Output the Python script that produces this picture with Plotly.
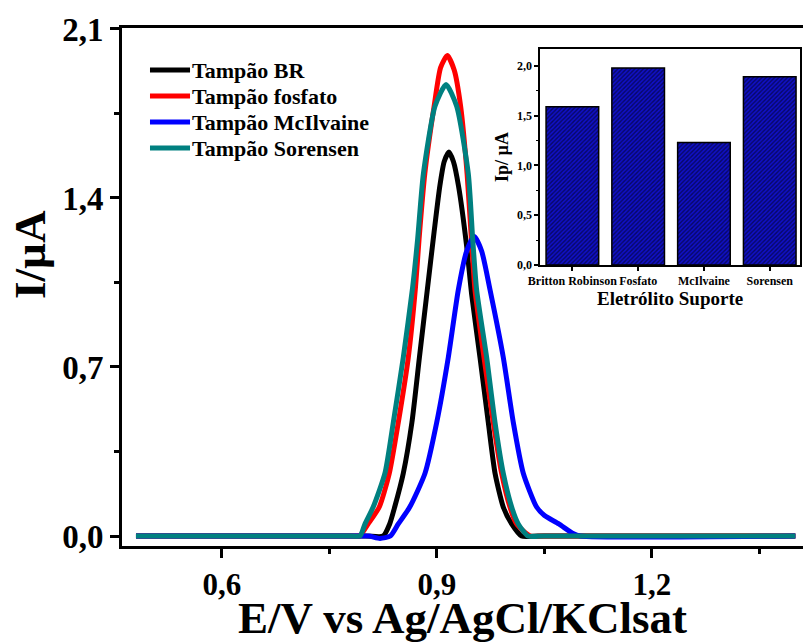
import plotly.graph_objects as go

# ---- main voltammograms (E in V, I in uA) ----
E_br = [0.48, 0.80, 0.825, 0.834, 0.841, 0.853, 0.865, 0.8755, 0.8865, 0.896, 0.904, 0.910, 0.9167,
        0.923, 0.930, 0.9414, 0.9484, 0.960, 0.9716, 0.981, 0.9925, 1.0042, 1.018, 1.04, 1.40]
I_br = [0, 0, 0, 0.05, 0.12, 0.26, 0.47, 0.74, 1.02, 1.26, 1.45, 1.55, 1.59,
        1.55, 1.45, 1.20, 1.00, 0.74, 0.47, 0.26, 0.12, 0.05, 0, 0, 0]

E_fos = [0.48, 0.78, 0.792, 0.804, 0.8195, 0.8335, 0.846, 0.860, 0.870, 0.875, 0.883, 0.896, 0.905,
         0.9144, 0.924, 0.933, 0.942, 0.948, 0.953, 0.9656, 0.9786, 0.9902, 1.0018, 1.011, 1.03, 1.05, 1.40]
I_fos = [0, 0, 0, 0.05, 0.12, 0.26, 0.47, 0.74, 1.03, 1.23, 1.50, 1.78, 1.94,
         1.99, 1.93, 1.78, 1.50, 1.23, 1.02, 0.74, 0.47, 0.26, 0.12, 0.05, 0, 0, 0]

E_mci = [0.48, 0.79, 0.805, 0.8205, 0.835, 0.846, 0.862, 0.8833, 0.8996, 0.9158, 0.9298, 0.9414, 0.952,
         0.9623, 0.974, 0.9925, 1.0065, 1.0204, 1.039, 1.050, 1.070, 1.09, 1.10, 1.40]
I_mci = [0, 0, 0, -0.01, 0, 0.05, 0.12, 0.26, 0.47, 0.74, 1.02, 1.18, 1.24,
         1.18, 1.02, 0.74, 0.47, 0.26, 0.12, 0.085, 0.05, 0.01, 0, 0]

E_sor = [0.48, 0.78, 0.7926, 0.7995, 0.811, 0.8274, 0.839, 0.853, 0.866, 0.873, 0.881, 0.8972, 0.9126,
         0.9275, 0.9437, 0.9498, 0.9553, 0.9693, 0.981, 0.9925, 1.0042, 1.0134, 1.027, 1.05, 1.40]
I_sor = [0, 0, 0, 0.05, 0.12, 0.26, 0.47, 0.74, 1.03, 1.23, 1.50, 1.78, 1.87,
         1.78, 1.50, 1.23, 1.02, 0.74, 0.47, 0.26, 0.12, 0.05, 0, 0, 0]

series_names = ["Tampão BR", "Tampão fosfato", "Tampão McIlvaine", "Tampão Sorensen"]
series_colors = ["#000000", "#ff0000", "#0000ff", "#008080"]

# ---- inset bar chart ----
inset_categories = ["Britton Robinson", "Fosfato", "McIlvaine", "Sorensen"]
inset_values = [1.59, 1.98, 1.23, 1.89]

FONT = "Liberation Serif"

fig = go.Figure()
for E, I, name, color in zip([E_br, E_fos, E_mci, E_sor], [I_br, I_fos, I_mci, I_sor],
                             series_names, series_colors):
    fig.add_trace(go.Scatter(x=E, y=I, mode="lines", name=name, showlegend=False,
                             line=dict(color=color, width=5, shape="spline", smoothing=0.6)))

fig.add_trace(go.Bar(x=inset_categories, y=inset_values, xaxis="x2", yaxis="y2",
                     showlegend=False, width=0.8,
                     marker=dict(color="#1010c8", line=dict(color="#000000", width=1.5),
                                 pattern=dict(shape="/", fgcolor="#000000", size=3, solidity=0.45))))

# ---- legend (drawn in paper space to match the compact row spacing) ----
legend_x0, legend_x1, legend_tx = 0.0411, 0.0999, 0.1000
legend_rows = [0.9189, 0.8687, 0.8185, 0.7683]
shapes = []
annotations = []
for name, color, yy in zip(series_names, series_colors, legend_rows):
    shapes.append(dict(type="line", xref="paper", yref="paper", x0=legend_x0, x1=legend_x1,
                       y0=yy, y1=yy, line=dict(color=color, width=5)))
    annotations.append(dict(xref="paper", yref="paper", x=legend_tx, y=yy, xanchor="left",
                            yanchor="middle", showarrow=False, text="<b>%s</b>" % name,
                            font=dict(family=FONT, size=22, color="black")))

annotations.append(dict(xref="paper", yref="paper", x=-0.135, y=0.562, xanchor="center",
                        yanchor="middle", showarrow=False, textangle=-90, text="<b>I/µA</b>",
                        font=dict(family=FONT, size=45, color="black")))

fig.update_layout(
    width=803, height=643,
    margin=dict(l=122, r=0, t=28, b=97),
    plot_bgcolor="white", paper_bgcolor="white",
    separators=",.",
    font=dict(family=FONT, color="black"),
    showlegend=False,
    shapes=shapes,
    annotations=annotations,
    xaxis=dict(range=[0.4605, 1.4107], tick0=0.6, dtick=0.3, tickformat=".1f",
               showgrid=False, zeroline=False, showline=True, linecolor="black", linewidth=3,
               mirror=True, ticks="outside", ticklen=9, tickwidth=3, tickcolor="black",
               minor=dict(tick0=0.6, dtick=0.15, ticks="outside", ticklen=5, tickwidth=3, tickcolor="black"),
               tickfont=dict(family=FONT, size=31, weight="bold"),
               title=dict(text="<b>E/V vs Ag/AgCl/KClsat</b>", font=dict(family=FONT, size=45), standoff=7)),
    yaxis=dict(range=[-0.0414, 2.104], tick0=0, dtick=0.7, tickformat=".1f",
               showgrid=False, zeroline=False, showline=True, linecolor="black", linewidth=3,
               mirror=False, ticks="outside", ticklen=9, tickwidth=3, tickcolor="black",
               minor=dict(tick0=0, dtick=0.35, ticks="outside", ticklen=5, tickwidth=3, tickcolor="black"),
               tickfont=dict(family=FONT, size=33, weight="bold")),
    xaxis2=dict(domain=[0.614, 0.9956], anchor="y2", type="category", range=[-0.49, 3.46],
                showgrid=False, zeroline=False, showline=True, linecolor="black", linewidth=1.5,
                mirror=True, ticks="outside", ticklen=4, tickwidth=1.5, tickcolor="black",
                tickfont=dict(family=FONT, size=12, weight="bold"),
                title=dict(text="<b>Eletrólito Suporte</b>", font=dict(family=FONT, size=19), standoff=3)),
    yaxis2=dict(domain=[0.5425, 0.9595], anchor="x2", range=[0, 2.17], tick0=0, dtick=0.5,
                tickformat=".1f",
                showgrid=False, zeroline=False, showline=True, linecolor="black", linewidth=1.5,
                mirror=True, ticks="outside", ticklen=4, tickwidth=1.5, tickcolor="black",
                minor=dict(tick0=0, dtick=0.25, ticks="outside", ticklen=2, tickwidth=1, tickcolor="black"),
                tickfont=dict(family=FONT, size=12, weight="bold"),
                title=dict(text="<b>Ip/ µA</b>", font=dict(family=FONT, size=18), standoff=4)),
    bargap=0.2,
)

fig.write_html("out.html")
